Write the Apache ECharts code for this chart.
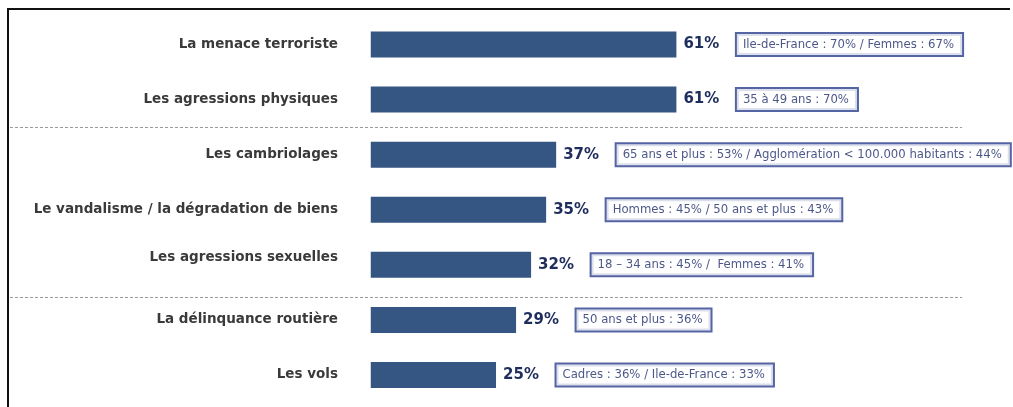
<!DOCTYPE html>
<html>
<head>
<meta charset="utf-8">
<script src="https://cdn.jsdelivr.net/npm/echarts@6/dist/echarts.min.js"></script>
<style>
  html, body { margin: 0; padding: 0; background: #fff; overflow: hidden; }
  #chart { position: absolute; left: 0; top: 0; width: 1013px; height: 407px; }
  #frame { position: absolute; left: 7px; top: 8px; width: 1001px; height: 410px;
           border-top: 2px solid #111; border-left: 2px solid #111; pointer-events: none; }
</style>
</head>
<body>
<div id="chart"></div>
<div id="frame"></div>
<script>
const categories = [
  "La menace terroriste",
  "Les agressions physiques",
  "Les cambriolages",
  "Le vandalisme / la dégradation de biens",
  "Les agressions sexuelles",
  "La délinquance routière",
  "Les vols"
];
const values = [61, 61, 37, 35, 32, 29, 25];
const annotations = [
  "Ile-de-France : 70% / Femmes : 67%",
  "35 à 49 ans : 70%",
  "65 ans et plus : 53% / Agglomération < 100.000 habitants : 44%",
  "Hommes : 45% / 50 ans et plus : 43%",
  "18 – 34 ans : 45% /  Femmes : 41%",
  "50 ans et plus : 36%",
  "Cadres : 36% / Ile-de-France : 33%"
];
// group separators: row-boundary positions (in rows from the top)
const separators = [2, 5.08];

const chart = echarts.init(document.getElementById('chart'), null, { renderer: 'canvas' });

chart.setOption({
  animation: false,
  grid: { left: 10, right: 51, top: 17, bottom: 4.5, containLabel: false },
  xAxis: { type: 'value', min: -72, max: 118, show: false },
  yAxis: [
    {
      type: 'category',
      inverse: true,
      data: categories,
      axisLine: { show: false },
      axisTick: { show: false },
      splitLine: { show: false },
      axisLabel: {
        margin: -328,
        fontFamily: 'DejaVu Sans',
        fontWeight: 'bold',
        fontSize: 13.5,
        lineHeight: 14,
        color: '#3a3a3a',
        formatter: (v, i) => i === 4 ? v + '\n ' : v
      }
    },
    {
      type: 'value',
      inverse: true,
      min: 0,
      max: categories.length,
      show: false
    }
  ],
  series: [
    {
      type: 'bar',
      data: values,
      barWidth: 26,
      itemStyle: { color: '#355682' },
      label: {
        show: true,
        position: 'right',
        distance: 7,
        formatter: '{c}%',
        fontFamily: 'DejaVu Sans',
        fontWeight: 'bold',
        fontSize: 15,
        color: '#1f2d5c'
      }
    },
    {
      type: 'scatter',
      data: values.map((v, i) => [v, categories[i]]),
      symbolSize: 1,
      itemStyle: { color: 'rgba(0,0,0,0)' },
      label: {
        show: true,
        position: 'right',
        distance: 60,
        formatter: (p) => annotations[p.dataIndex],
        fontFamily: 'DejaVu Sans',
        fontSize: 11.7,
        lineHeight: 14,
        color: '#1f2d6c',
        backgroundColor: '#fff',
        borderColor: '#2a3d8c',
        borderWidth: 2,
        padding: [4, 8, 3, 6]
      }
    },
    {
      type: 'line',
      yAxisIndex: 1,
      data: [],
      markLine: {
        silent: true,
        symbol: 'none',
        label: { show: false },
        lineStyle: { color: '#9a9a9a', width: 1, type: [3, 2] },
        data: separators.map(s => ({ yAxis: s }))
      }
    }
  ]
});
</script>
</body>
</html>
